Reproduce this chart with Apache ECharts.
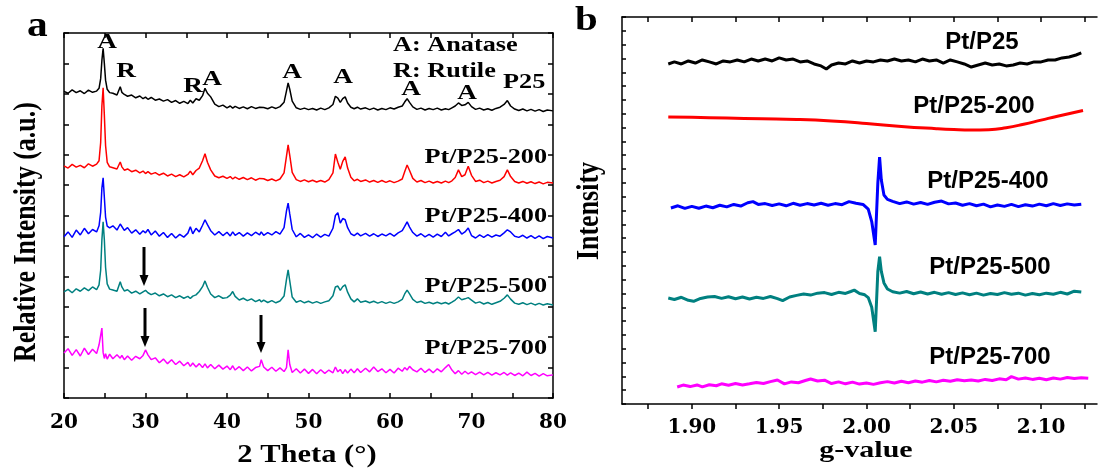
<!DOCTYPE html>
<html>
<head>
<meta charset="utf-8">
<script src="https://cdn.jsdelivr.net/npm/echarts@6/dist/echarts.min.js"></script>
<style>
  html, body { margin: 0; padding: 0; background: #fff; }
  #chart { width: 1099px; height: 472px; }
</style>
</head>
<body>
<div id="chart"></div>
<script>
// XRD: 2 theta grid shared by all five patterns
var twoTheta = [
  20, 20.5, 21, 21.5, 22, 22.5, 23, 23.5, 24, 24.3,
  24.5, 24.65, 24.8, 24.95, 25.1, 25.3, 25.6, 26, 26.5, 26.9,
  27.1, 27.4, 27.8, 28.3, 28.8, 29.3, 29.7, 30, 30.3, 30.7,
  31.2, 31.7, 32.2, 32.7, 33.2, 33.7, 34.2, 34.7, 35.2, 35.5,
  35.8, 36.2, 36.6, 37, 37.3, 37.6, 38, 38.5, 39, 39.5,
  40, 40.4, 40.7, 41, 41.5, 42, 42.5, 43, 43.5, 44,
  44.2, 44.5, 45, 45.5, 46, 46.5, 47, 47.3, 47.5, 47.7,
  48, 48.5, 49, 49.5, 50, 50.5, 51, 51.5, 52, 52.5,
  53, 53.3, 53.6, 53.9, 54.2, 54.5, 54.8, 55.2, 55.6, 56,
  56.4, 57, 57.5, 58, 58.5, 59, 59.5, 60, 60.5, 61,
  61.5, 61.8, 62.1, 62.4, 62.8, 63.3, 63.8, 64.3, 64.8, 65.3,
  65.8, 66.3, 66.8, 67.2, 67.6, 68, 68.4, 68.8, 69.2, 69.6,
  70, 70.5, 71, 71.5, 72, 72.5, 73, 73.5, 74, 74.4,
  74.8, 75.3, 75.8, 76.3, 76.8, 77.3, 77.8, 78.3, 78.8, 79.3,
  80
];

var xrdP25 = [
  100.8, 100.2, 101.3, 100.4, 101.0, 100.1, 101.2, 100.5, 100.9, 101.8,
  105, 111, 115, 110, 104.5, 101.5, 100.4, 100.2, 99.6, 102.3,
  100.5, 99.8, 99.2, 99.6, 98.7, 99.3, 98.4, 98.9, 98.2, 98.8,
  97.9, 98.3, 97.6, 98.1, 97.2, 97.8, 96.9, 97.5, 96.8, 97.9,
  97.0, 98.4, 97.9, 99.4, 101.8, 100.2, 99.0, 96.6, 95.8, 96.3,
  95.4, 96.0, 95.3, 95.9, 95.2, 95.7, 95.1, 95.8, 95.2, 95.6,
  95.0, 95.5, 95.1, 95.7, 95.2, 95.8, 97.2, 101, 103.6, 101.5,
  97.6, 95.4, 94.9, 95.3, 94.8, 95.2, 94.7, 95.3, 94.8, 95.4,
  96.5, 99.2, 98.6, 97.2, 98.4, 99.0, 97.0, 95.6, 95.1, 95.6,
  95.0, 95.4, 94.8, 95.3, 94.7, 95.2, 94.8, 95.4, 95.0, 95.6,
  96.0, 97.3, 98.4, 97.2, 95.7, 94.9, 95.3, 94.7, 95.2, 94.8,
  95.3, 94.7, 95.1, 94.8, 95.4, 96.0, 97.0, 96.2, 96.4, 97.2,
  95.8, 94.9, 95.3, 94.7, 95.1, 94.6, 95.2, 95.6, 96.5, 97.8,
  96.0, 95.0, 94.5, 95.0, 94.4, 94.9, 94.3, 94.8, 94.2, 94.7,
  94.4
];

var xrd200 = [
  76.3, 75.6, 76.8, 75.9, 76.5, 75.7, 77.0, 76.2, 76.9, 78.0,
  84, 96, 102, 93, 83, 77.5, 76.0, 75.7, 75.3, 77.6,
  76.0, 74.9, 75.3, 74.4, 74.9, 74.0, 74.6, 73.8, 74.4, 73.6,
  74.1, 73.3, 73.9, 73.0, 73.6, 72.8, 73.4, 72.7, 73.5, 74.6,
  73.4, 74.8, 75.6, 78.0, 80.3, 77.5, 75.0, 73.0, 72.4, 72.9,
  72.2, 72.8, 72.0, 72.6, 71.9, 72.5, 71.8, 72.4, 71.6, 72.2,
  71.6, 72.1, 71.5, 72.0, 71.4, 72.0, 74.0, 79.5, 83.2, 79.8,
  74.2, 71.8, 71.2, 71.7, 71.1, 71.6, 71.0, 71.5, 71.0, 71.8,
  74.0, 80.2, 77.5, 75.2, 77.8, 79.3, 75.6, 72.6, 71.4, 71.9,
  71.2, 71.7, 71.0, 71.5, 70.9, 71.5, 70.9, 71.4, 70.8, 71.3,
  72.0, 74.4, 76.6, 74.8, 72.2, 71.0, 71.5, 70.8, 71.3, 70.7,
  71.2, 70.7, 71.3, 70.8, 71.4, 72.5, 75.0, 72.8, 73.4, 76.2,
  73.2, 71.2, 71.6, 70.8, 71.3, 70.7, 71.2, 71.6, 72.8, 75.0,
  72.8, 71.2, 70.7, 71.2, 70.6, 71.1, 70.5, 71.0, 70.4, 70.9,
  70.7
];

var xrd400 = [
  53.0, 54.6, 52.8, 55.2, 53.6, 55.8, 54.0, 55.4, 54.6, 56.6,
  61, 69, 72.4, 66, 59.5, 56.5, 55.9, 56.6, 55.2, 57.2,
  56.8, 55.1, 56.0, 54.2, 55.3, 53.8, 55.0, 54.3, 55.4, 53.6,
  54.9, 53.2, 54.4, 52.8, 54.1, 52.6, 53.8, 52.9, 54.2, 56.3,
  54.0, 55.8, 54.6, 56.8, 58.6, 57.0, 55.0, 53.6, 54.7, 53.4,
  54.5, 53.3, 54.6, 53.5, 54.4, 53.2, 54.3, 53.4, 54.5, 53.6,
  54.6, 53.5, 54.4, 53.6, 54.7, 53.9, 56.0, 61.5, 64.1, 60.5,
  55.4, 53.0, 54.1, 52.8, 53.6, 52.7, 53.9, 52.9, 53.8, 53.2,
  55.8, 60.0, 60.9, 57.5, 59.0, 58.6, 56.0, 54.0, 53.4, 54.2,
  53.3, 54.1, 53.2, 54.0, 53.1, 53.9, 53.3, 54.1, 53.2, 54.3,
  55.0, 56.4, 57.9, 56.2, 54.4, 53.2, 54.0, 53.0, 53.8, 52.9,
  53.9, 53.1, 54.5, 53.3, 54.0, 54.6, 55.4, 53.9, 54.6, 55.9,
  53.4, 52.6, 53.6, 52.8, 53.7, 52.9, 53.6, 53.2, 54.3, 55.3,
  54.6, 53.2, 52.8, 53.5, 52.6, 53.4, 52.5, 53.3, 52.4, 53.1,
  52.6
];

var xrd500 = [
  34.9, 35.7, 34.6, 35.9, 35.1, 36.2, 35.3, 36.5, 35.6, 37.2,
  42, 52, 57.9, 52, 43, 37.5, 35.8, 35.5, 35.1, 38.2,
  36.5, 35.2, 35.6, 34.5, 35.1, 34.2, 34.9, 35.4, 34.6, 34.0,
  34.5, 33.6, 34.2, 33.3, 33.9, 33.0, 33.6, 32.8, 33.4, 32.7,
  33.5, 33.9, 35.0, 36.6, 38.5, 36.4, 34.2, 33.0, 33.6, 32.8,
  33.0, 33.8, 35.0, 33.4, 32.2, 32.8, 32.0, 32.6, 31.7, 32.3,
  31.6, 32.2, 31.4, 32.0, 31.3, 31.9, 33.5, 39.0, 42.1, 38.5,
  33.2, 31.5, 32.0, 31.3, 31.8, 31.2, 31.7, 31.1, 31.6, 32.0,
  33.6, 36.5, 36.8, 35.4, 36.6, 37.2, 34.8, 32.6, 31.6, 32.6,
  31.5, 31.9, 31.3, 31.8, 31.2, 31.7, 31.1, 31.6, 31.1, 31.6,
  32.4, 34.2, 35.5, 34.2, 32.4, 31.4, 31.8, 31.1, 31.5, 31.0,
  31.5, 31.0, 31.4, 30.9, 31.5, 32.2, 33.2, 32.3, 32.6, 33.0,
  32.2, 31.2, 31.6, 30.9, 31.4, 30.8, 31.3, 31.8, 32.8, 33.9,
  32.5, 31.2, 30.8, 31.3, 30.7, 31.2, 30.6, 31.1, 30.6, 31.0,
  30.6
];

var xrd700 = [
  14.8, 16.2, 14.0, 15.9, 13.8, 16.4, 14.3, 16.0, 14.6, 17.5,
  18.0, 23.0, 15.0, 13.0, 14.6, 12.8, 14.4, 12.9, 14.2, 13.1,
  14.0, 12.6, 13.8, 12.4, 13.7, 12.9, 14.0, 15.8, 14.2, 12.6,
  13.2, 11.6, 12.8, 11.3, 12.6, 11.0, 12.1, 10.6, 11.7, 10.4,
  11.5, 10.2, 11.3, 10.0, 11.2, 9.9, 11.0, 9.6, 10.8, 9.5,
  10.5, 9.3, 10.6, 9.2, 10.3, 9.0, 10.2, 8.9, 10.0, 10.4,
  12.6, 10.2, 9.0, 10.1, 8.8, 9.9, 8.7, 10.0, 15.8, 11.0,
  8.4, 9.6, 8.2, 9.5, 8.1, 9.4, 8.0, 9.3, 8.1, 9.2,
  8.3, 10.2, 8.6, 9.4, 8.0, 9.3, 8.2, 9.5, 8.3, 9.6,
  8.4, 9.8, 8.6, 10.2, 8.7, 9.6, 8.3, 9.4, 8.2, 9.8,
  8.8, 10.0, 9.2, 10.4, 9.3, 8.6, 9.8, 8.4, 9.5, 8.3,
  9.6, 8.6, 10.0, 11.0, 9.2, 8.0, 9.0, 7.8, 8.8, 7.9,
  8.6, 7.7, 8.5, 7.6, 8.4, 7.5, 8.3, 7.6, 8.4, 7.5,
  8.3, 7.4, 8.2, 7.3, 8.5, 7.4, 8.1, 7.2, 8.0, 7.3,
  7.6
];

// EPR: [g-value, intensity]
var eprP25 = [
  [1.8865, 246.0], [1.890, 247.5], [1.894, 246.0], [1.898, 248.2], [1.902, 246.7],
  [1.906, 248.9], [1.910, 247.5], [1.914, 246.0], [1.918, 248.2], [1.922, 247.5],
  [1.926, 248.9], [1.930, 247.5], [1.934, 249.6], [1.938, 248.2], [1.942, 249.6],
  [1.946, 248.2], [1.950, 250.4], [1.954, 248.9], [1.958, 249.6], [1.962, 247.5],
  [1.966, 248.2], [1.970, 246.0], [1.974, 244.6], [1.977, 242.4], [1.980, 245.3],
  [1.984, 246.7], [1.988, 246.0], [1.992, 248.2], [1.996, 246.7], [2.000, 248.2],
  [2.004, 247.5], [2.008, 248.9], [2.012, 248.2], [2.016, 249.6], [2.020, 248.2],
  [2.024, 248.9], [2.028, 247.5], [2.032, 249.6], [2.036, 248.2], [2.040, 248.9],
  [2.044, 246.7], [2.048, 248.9], [2.052, 247.5], [2.056, 246.0], [2.060, 243.8],
  [2.064, 245.3], [2.068, 246.7], [2.072, 245.3], [2.076, 246.0], [2.080, 244.6],
  [2.084, 245.3], [2.088, 246.7], [2.092, 246.0], [2.096, 247.5], [2.100, 247.5],
  [2.104, 248.9], [2.108, 248.9], [2.112, 250.4], [2.116, 251.1], [2.120, 252.5],
  [2.123, 254.0]
];

var epr200 = [
  [1.8865, 207.7], [1.90, 207.4], [1.92, 206.9], [1.94, 206.4], [1.96, 205.9],
  [1.98, 204.8], [2.00, 203.0], [2.02, 200.8], [2.04, 199.2], [2.05, 198.6],
  [2.06, 198.3], [2.07, 198.5], [2.08, 199.9], [2.09, 202.4], [2.10, 205.4],
  [2.11, 208.4], [2.124, 212.4]
];

var epr400 = [
  [1.888, 141.8], [1.892, 143.4], [1.896, 141.5], [1.900, 143.0], [1.904, 141.6],
  [1.908, 143.2], [1.912, 142.0], [1.916, 143.8], [1.920, 142.6], [1.924, 144.4],
  [1.928, 143.2], [1.932, 145.6], [1.935, 146.4], [1.938, 144.4], [1.942, 145.0],
  [1.946, 143.6], [1.950, 144.8], [1.954, 143.4], [1.958, 145.2], [1.962, 143.8],
  [1.966, 145.0], [1.970, 144.0], [1.974, 145.2], [1.978, 143.8], [1.982, 145.0],
  [1.986, 144.2], [1.990, 146.4], [1.994, 145.2], [1.998, 144.4], [2.001, 141.0],
  [2.003, 132.0], [2.005, 115.0], [2.0065, 160.0], [2.0075, 178.7], [2.0085, 162.0],
  [2.010, 151.2], [2.012, 148.0], [2.015, 146.6], [2.019, 145.0], [2.023, 146.2],
  [2.027, 144.6], [2.031, 145.8], [2.035, 144.4], [2.039, 146.0], [2.043, 146.8],
  [2.047, 144.8], [2.051, 145.4], [2.055, 143.8], [2.059, 145.0], [2.063, 143.4],
  [2.067, 144.6], [2.071, 142.6], [2.075, 144.0], [2.079, 143.0], [2.083, 144.4],
  [2.087, 142.8], [2.091, 144.2], [2.095, 143.2], [2.099, 144.6], [2.103, 143.4],
  [2.107, 145.0], [2.111, 143.6], [2.115, 144.8], [2.119, 144.0], [2.123, 144.6]
];

var epr500 = [
  [1.8865, 76.7], [1.890, 75.6], [1.894, 77.2], [1.898, 75.0], [1.901, 74.3],
  [1.905, 76.4], [1.909, 77.4], [1.913, 77.8], [1.917, 76.4], [1.921, 77.6],
  [1.925, 76.2], [1.929, 77.4], [1.933, 76.0], [1.937, 77.2], [1.941, 76.4],
  [1.945, 77.8], [1.949, 76.2], [1.952, 74.8], [1.956, 77.4], [1.960, 78.6],
  [1.964, 79.6], [1.968, 78.8], [1.972, 80.2], [1.976, 80.6], [1.980, 79.2],
  [1.984, 80.8], [1.988, 80.0], [1.991, 81.4], [1.993, 82.4], [1.996, 80.0],
  [1.999, 79.0], [2.001, 77.0], [2.003, 70.0], [2.005, 52.3], [2.0065, 96.0],
  [2.0075, 106.6], [2.0085, 96.0], [2.010, 87.6], [2.012, 83.2], [2.015, 81.2],
  [2.019, 80.2], [2.023, 81.4], [2.027, 79.8], [2.031, 81.0], [2.035, 79.6],
  [2.039, 80.8], [2.043, 79.4], [2.047, 80.6], [2.051, 79.2], [2.055, 80.4],
  [2.059, 79.0], [2.063, 80.2], [2.067, 78.8], [2.071, 80.0], [2.075, 79.2],
  [2.079, 80.6], [2.083, 79.4], [2.087, 80.2], [2.091, 78.8], [2.095, 80.0],
  [2.099, 79.0], [2.103, 80.2], [2.107, 79.4], [2.111, 80.8], [2.115, 79.6],
  [2.119, 81.6], [2.123, 81.0]
];

var epr700 = [
  [1.8916, 12.3], [1.895, 13.7], [1.899, 12.6], [1.903, 13.8], [1.906, 12.4],
  [1.910, 13.9], [1.914, 13.2], [1.917, 14.6], [1.921, 13.6], [1.925, 14.8],
  [1.929, 13.8], [1.933, 14.6], [1.937, 15.6], [1.941, 14.8], [1.945, 16.2],
  [1.949, 17.4], [1.953, 14.6], [1.957, 16.0], [1.961, 15.4], [1.965, 17.0],
  [1.968, 18.1], [1.972, 16.6], [1.976, 17.2], [1.980, 14.8], [1.984, 16.0],
  [1.988, 14.6], [1.992, 15.8], [1.996, 14.4], [2.000, 15.2], [2.004, 14.2],
  [2.008, 15.4], [2.012, 16.2], [2.016, 15.2], [2.020, 16.4], [2.024, 15.4],
  [2.028, 16.6], [2.032, 15.8], [2.036, 17.0], [2.040, 16.0], [2.044, 17.2],
  [2.048, 16.4], [2.052, 17.6], [2.056, 16.8], [2.060, 17.4], [2.064, 16.6],
  [2.068, 17.8], [2.072, 17.0], [2.076, 18.2], [2.080, 17.6], [2.083, 19.8],
  [2.087, 18.0], [2.091, 18.8], [2.095, 17.8], [2.099, 18.6], [2.103, 17.6],
  [2.107, 18.8], [2.111, 18.0], [2.115, 19.2], [2.119, 18.4], [2.123, 19.0],
  [2.127, 18.6]
];

// tick values for panel b
var gTicks = [1.875, 1.9, 1.925, 1.95, 1.975, 2.0, 2.025, 2.05, 2.075, 2.1, 2.125];
var gLabels = [1.9, 1.95, 2.0, 2.05, 2.1];

var tickFont = 'DejaVu Serif';
var serif = 'Liberation Serif';
var sans = 'Liberation Sans';

function pairs(xs, ys) {
  return xs.map(function (x, i) { return [x, ys[i]]; });
}

var axisLineStyle = { color: '#000', width: 1.5 };

function xrdLine(name, color, ys) {
  return {
    name: name, type: 'line', xAxisIndex: 0, yAxisIndex: 0,
    data: pairs(twoTheta, ys), showSymbol: false, symbol: 'none',
    lineStyle: { color: color, width: 1.5 }, z: 3
  };
}
function eprLine(name, color, data, smooth) {
  return {
    name: name, type: 'line', xAxisIndex: 2, yAxisIndex: 2,
    data: data, showSymbol: false, symbol: 'none', smooth: smooth || false,
    lineStyle: { color: color, width: 3 }, z: 3
  };
}
// text element; sx stretches the glyphs sideways like the original figure
function txt(x, y, s, font, size, align, sx) {
  return {
    type: 'text', x: x, y: y, z: 10, scaleX: sx || 1,
    style: {
      text: s, fill: '#000', font: 'bold ' + size + 'px "' + font + '"',
      textAlign: align || 'left', textVerticalAlign: 'middle'
    }
  };
}
function vtxt(x, y, s, size) {
  return {
    type: 'text', x: x, y: y, rotation: Math.PI / 2, scaleY: 1.25, z: 10,
    style: { text: s, fill: '#000', font: 'bold ' + size + 'px "' + serif + '"',
      textAlign: 'center', textVerticalAlign: 'middle' }
  };
}
function arrow(x, y1, y2) {
  return {
    type: 'group', z: 10,
    children: [
      { type: 'line', shape: { x1: x, y1: y1, x2: x, y2: y2 - 9 }, style: { stroke: '#000', lineWidth: 3 } },
      { type: 'polygon', shape: { points: [[x - 4.5, y2 - 11], [x + 4.5, y2 - 11], [x, y2]] }, style: { fill: '#000' } }
    ]
  };
}

var chart = echarts.init(document.getElementById('chart'));

var option = {
  animation: false,
  backgroundColor: '#fff',
  grid: [
    { left: 64, top: 33, width: 489, height: 365 },
    { left: 622, top: 17, width: 475, height: 387 }
  ],
  xAxis: [
    {
      type: 'value', gridIndex: 0, min: 20, max: 80, interval: 10, position: 'bottom',
      axisLine: { onZero: false, lineStyle: axisLineStyle },
      axisTick: { inside: true, length: 5, lineStyle: axisLineStyle },
      minorTick: { show: true, splitNumber: 2, length: 5, lineStyle: axisLineStyle },
      axisLabel: { margin: 15, color: '#000', fontFamily: tickFont, fontWeight: 'bold', fontSize: 20 },
      splitLine: { show: false }
    },
    {
      type: 'value', gridIndex: 0, min: 20, max: 80, interval: 10, position: 'top',
      axisLine: { onZero: false, lineStyle: axisLineStyle },
      axisTick: { inside: true, length: 5, lineStyle: axisLineStyle },
      minorTick: { show: true, splitNumber: 2, length: 5, lineStyle: axisLineStyle },
      axisLabel: { show: false },
      splitLine: { show: false }
    },
    {
      type: 'value', gridIndex: 1, min: 1.86, max: 2.132, position: 'bottom',
      axisLine: { onZero: false, lineStyle: axisLineStyle },
      axisTick: { inside: false, length: 5, customValues: gTicks, lineStyle: axisLineStyle },
      axisLabel: {
        margin: 14, color: '#000', fontFamily: tickFont, fontWeight: 'bold', fontSize: 20,
        customValues: gLabels, formatter: function (v) { return v.toFixed(2); }
      },
      splitLine: { show: false }
    },
    {
      type: 'value', gridIndex: 1, min: 1.86, max: 2.132, position: 'top',
      axisLine: { onZero: false, lineStyle: axisLineStyle },
      axisTick: { inside: true, length: 5, customValues: gTicks, lineStyle: axisLineStyle },
      axisLabel: { show: false },
      splitLine: { show: false }
    }
  ],
  yAxis: [
    {
      type: 'value', gridIndex: 0, min: 0, max: 120, interval: 10, position: 'left',
      axisLine: { show: true, onZero: false, lineStyle: axisLineStyle },
      axisTick: { show: true, inside: true, length: 5, lineStyle: axisLineStyle },
      axisLabel: { show: false }, splitLine: { show: false }
    },
    {
      type: 'value', gridIndex: 0, min: 0, max: 120, interval: 10, position: 'right',
      axisLine: { show: true, onZero: false, lineStyle: axisLineStyle },
      axisTick: { show: true, inside: true, length: 5, lineStyle: axisLineStyle },
      axisLabel: { show: false }, splitLine: { show: false }
    },
    {
      type: 'value', gridIndex: 1, min: 0, max: 280, interval: 10, position: 'left',
      axisLine: { show: true, onZero: false, lineStyle: axisLineStyle },
      axisTick: { show: true, inside: true, length: 4, lineStyle: axisLineStyle },
      axisLabel: { show: false }, splitLine: { show: false }
    }
  ],
  series: [
    xrdLine('P25', '#000000', xrdP25),
    xrdLine('Pt/P25-200', '#ff0000', xrd200),
    xrdLine('Pt/P25-400', '#0000ff', xrd400),
    xrdLine('Pt/P25-500', '#008080', xrd500),
    xrdLine('Pt/P25-700', '#ff00ff', xrd700),
    eprLine('Pt/P25', '#000000', eprP25),
    eprLine('Pt/P25-200', '#ff0000', epr200, 0.5),
    eprLine('Pt/P25-400', '#0000ff', epr400),
    eprLine('Pt/P25-500', '#008080', epr500),
    eprLine('Pt/P25-700', '#ff00ff', epr700)
  ],
  graphic: [
    // panel letters
    txt(27, 27, 'a', serif, 36, 'left', 1.15),
    txt(575, 21, 'b', serif, 34, 'left', 1.2),
    // axis titles
    txt(307, 456, '2 Theta (°)', serif, 25, 'center', 1.22),
    txt(866, 451, 'g-value', serif, 24, 'center', 1.25),
    vtxt(27, 232, 'Relative Intensity (a.u.)', 26),
    vtxt(590, 211, 'Intensity', 26),
    // panel a legend texts
    txt(393, 46, 'A: Anatase', serif, 21, 'left', 1.25),
    txt(393, 72, 'R: Rutile', serif, 21, 'left', 1.25),
    txt(503, 83, 'P25', serif, 21, 'left', 1.25),
    txt(547, 158, 'Pt/P25-200', serif, 21, 'right', 1.25),
    txt(547, 217, 'Pt/P25-400', serif, 21, 'right', 1.25),
    txt(547, 287, 'Pt/P25-500', serif, 21, 'right', 1.25),
    txt(547, 349, 'Pt/P25-700', serif, 21, 'right', 1.25),
    // peak assignments
    txt(107, 43, 'A', serif, 21, 'center', 1.3),
    txt(126, 72, 'R', serif, 21, 'center', 1.3),
    txt(193, 87, 'R', serif, 21, 'center', 1.3),
    txt(212, 80, 'A', serif, 21, 'center', 1.3),
    txt(292, 73, 'A', serif, 21, 'center', 1.3),
    txt(343, 78, 'A', serif, 21, 'center', 1.3),
    txt(411, 90, 'A', serif, 21, 'center', 1.3),
    txt(467, 94, 'A', serif, 21, 'center', 1.3),
    // arrows
    arrow(144, 247, 286),
    arrow(145, 308, 347),
    arrow(261, 315, 353),
    // panel b labels
    txt(982, 42, 'Pt/P25', sans, 24, 'center'),
    txt(974, 106, 'Pt/P25-200', sans, 24, 'center'),
    txt(988, 181, 'Pt/P25-400', sans, 24, 'center'),
    txt(990, 267, 'Pt/P25-500', sans, 24, 'center'),
    txt(990, 357, 'Pt/P25-700', sans, 24, 'center')
  ]
};

chart.setOption(option);
</script>
</body>
</html>
